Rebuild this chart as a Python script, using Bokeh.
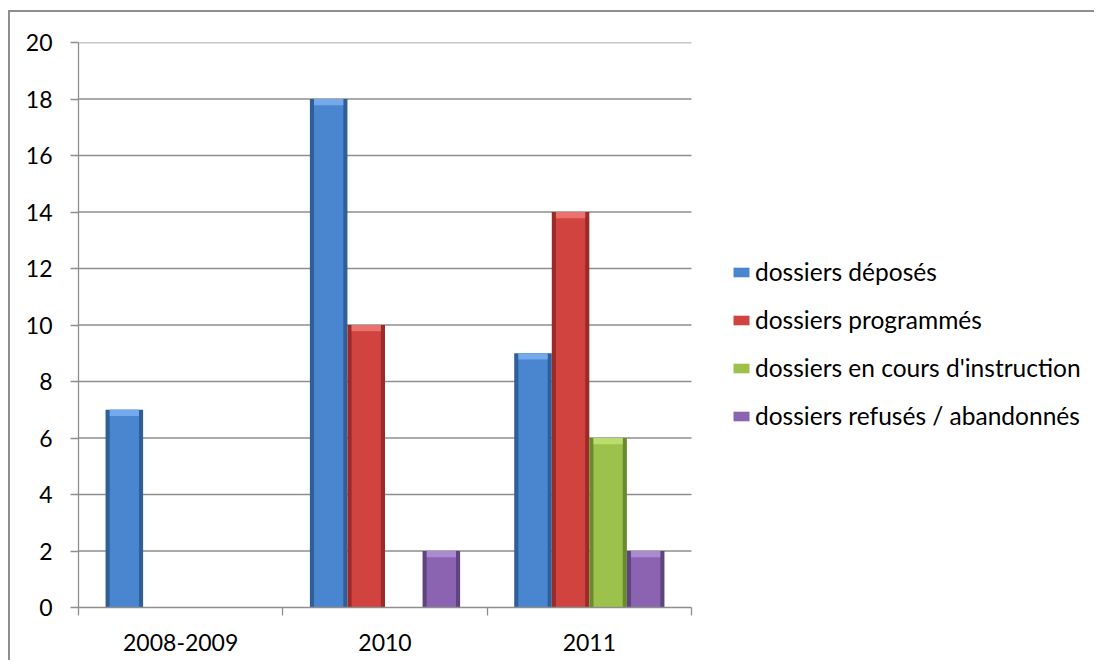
from bokeh.plotting import figure
from bokeh.models import ColumnDataSource, FixedTicker, Range1d, Legend, LegendItem
from bokeh.transform import dodge
from bokeh.embed import file_html
from bokeh.resources import INLINE

# ---- data ----
categories = ["2008-2009", "2010", "2011"]
series_names = ["dossiers déposés", "dossiers programmés",
                "dossiers en cours d'instruction", "dossiers refusés / abandonnés"]
deposes = [7, 18, 9]
programmes = [0, 10, 14]
instruction = [0, 0, 6]
refuses = [0, 2, 2]
y_ticks = [0, 2, 4, 6, 8, 10, 12, 14, 16, 18, 20]

series_values = [deposes, programmes, instruction, refuses]
main_colors = ["#4a86cf", "#d0433f", "#9cc24c", "#8a64b0"]
dark_colors = ["#2f5f98", "#9a2b28", "#6a8a2e", "#5e4580"]
light_colors = ["#74aaec", "#e9726e", "#bbdd70", "#ab8ad2"]

FONT = "Lato"
FS_TICK = "23px"
FS_LEG = "24.5px"

n_cat = len(categories)
cat_pos = [i + 0.5 for i in range(n_cat)]
data = {"x": cat_pos}
for k, vals in enumerate(series_values):
    data["s%d" % k] = vals
source = ColumnDataSource(data)

# layout (pixels): canvas starts at (10, 12) because of margin + border
W, H = 1086, 650
LEFT, TOP, BOTTOM = 68, 30, 55
CAT_AREA_PX = 613                      # width of the category area
frame_w = W - LEFT
x_end = n_cat * frame_w / CAT_AREA_PX  # extra room on the right holds the legend

p = figure(width=W, height=H, output_backend="svg", toolbar_location=None,
           x_range=Range1d(0, x_end), y_range=Range1d(0, 20),
           min_border_left=LEFT, min_border_right=0, min_border_top=TOP,
           min_border_bottom=BOTTOM)
p.styles = {"margin-left": "8px", "margin-top": "10px",
            "border-left": "2px solid #8e8e8e", "border-top": "2px solid #8e8e8e"}
p.background_fill_color = "white"
p.border_fill_color = "white"
p.outline_line_color = None

# horizontal gridlines over the category area only
p.xgrid.visible = False
p.ygrid.visible = False
grid_src = ColumnDataSource({"y": y_ticks[1:], "x0": [0] * (len(y_ticks) - 1),
                             "x1": [n_cat] * (len(y_ticks) - 1)})
p.segment(x0="x0", y0="y", x1="x1", y1="y", source=grid_src,
          line_color="#8e8e8e", line_width=1.3, level="underlay")

bw = 0.1838
offsets = [-1.5 * bw, -0.5 * bw, 0.5 * bw, 1.5 * bw]
items = []
for k in range(4):
    col = "s%d" % k
    p.vbar(x=dodge("x", offsets[k]), top=col, bottom=0, width=bw, source=source,
           fill_color=dark_colors[k], line_color=None)
    r = p.vbar(x=dodge("x", offsets[k]), top=col, bottom=0, width=bw * 0.78,
               source=source, fill_color=main_colors[k], line_color=None)
    p.vbar(x=dodge("x", offsets[k]), top=col, bottom=dodge(col, -0.22), width=bw * 0.78,
           source=source, fill_color=light_colors[k], line_color=None)
    items.append(LegendItem(label=series_names[k], renderers=[r]))

# y axis
p.yaxis.ticker = FixedTicker(ticks=y_ticks)
p.yaxis.axis_line_color = "#8e8e8e"
p.yaxis.axis_line_width = 1.3
p.yaxis.major_tick_line_color = "#8e8e8e"
p.yaxis.major_tick_line_width = 1.3
p.yaxis.major_tick_out = 8
p.yaxis.major_tick_in = 0
p.yaxis.minor_tick_line_color = None
p.yaxis.major_label_standoff = 18
p.yaxis.major_label_text_font = FONT
p.yaxis.major_label_text_font_size = FS_TICK
p.yaxis.major_label_text_color = "black"

# x axis
p.xaxis.ticker = FixedTicker(ticks=cat_pos, minor_ticks=list(range(n_cat + 1)))
p.xaxis.bounds = (0, n_cat)
p.xaxis.major_label_overrides = {cat_pos[i]: categories[i] for i in range(n_cat)}
p.xaxis.axis_line_color = "#8e8e8e"
p.xaxis.axis_line_width = 1.3
p.xaxis.major_tick_line_color = None
p.xaxis.major_tick_out = 0
p.xaxis.major_tick_in = 0
p.xaxis.minor_tick_line_color = "#8e8e8e"
p.xaxis.minor_tick_line_width = 1.3
p.xaxis.minor_tick_out = 8
p.xaxis.minor_tick_in = 0
p.xaxis.major_label_standoff = 18
p.xaxis.major_label_text_font = FONT
p.xaxis.major_label_text_font_size = FS_TICK
p.xaxis.major_label_text_color = "black"

legend = Legend(items=items, location=(653, 177), orientation="vertical",
                glyph_width=20, glyph_height=12, label_standoff=4,
                label_height=29, spacing=19, padding=0, margin=0,
                label_text_font=FONT, label_text_font_size=FS_LEG, label_text_color="black",
                border_line_color=None, background_fill_alpha=0)
p.add_layout(legend, "center")

open("out.html", "w").write(file_html(p, INLINE))
